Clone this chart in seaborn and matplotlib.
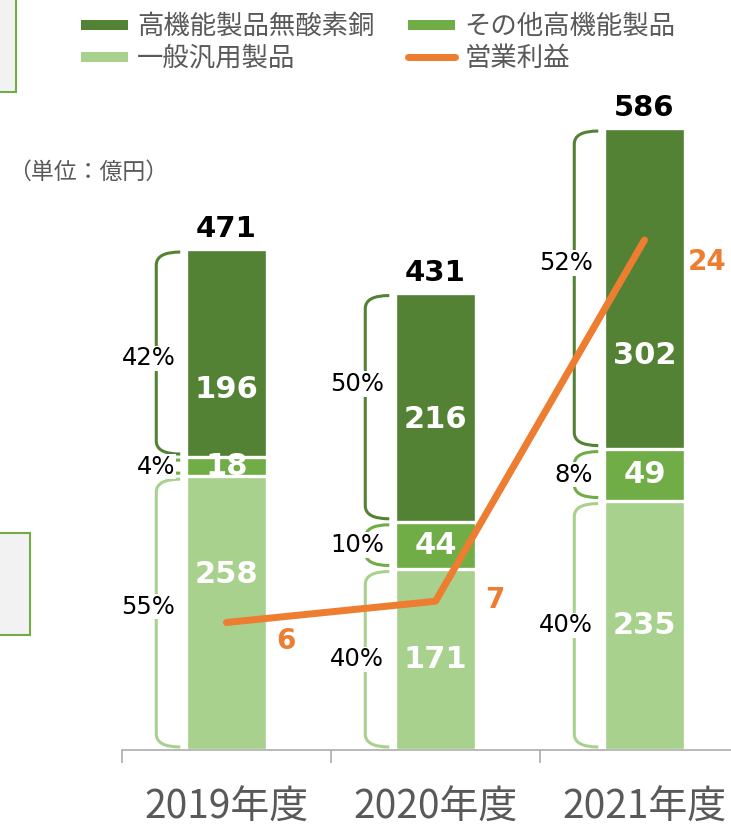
import numpy as np
import pandas as pd
import matplotlib
matplotlib.use("Agg")
import matplotlib.pyplot as plt
import seaborn as sns
from matplotlib.path import Path
from matplotlib.patches import PathPatch, Rectangle
from matplotlib.lines import Line2D

# ---------------- data ----------------
years = ["2019年度", "2020年度", "2021年度"]
general = [258, 171, 235]      # 一般汎用製品
other_hp = [18, 44, 49]        # その他高機能製品
hp_ofc = [196, 216, 302]       # 高機能製品無酸素銅
totals = [471, 431, 586]
profit = [6, 7, 24]            # 営業利益
pct_general = ["55%", "40%", "40%"]
pct_other = ["4%", "10%", "8%"]
pct_ofc = ["42%", "50%", "52%"]
series_names = ["高機能製品無酸素銅", "その他高機能製品", "一般汎用製品", "営業利益"]
unit_text = "（単位：億円）"

# ---------------- style ----------------
C_DARK, C_MID, C_LIGHT, C_ORANGE = "#548235", "#70AD47", "#A9D18E", "#ED7D31"
GRAY_TXT = "#595959"
JP = ["Noto Sans CJK JP", "DejaVu Sans"]

sns.set_theme(style="white")
plt.rcParams["font.family"] = ["DejaVu Sans", "Noto Sans CJK JP"]

W, H, DPI = 731, 827, 100
PT = 72 / DPI
fig = plt.figure(figsize=(W / DPI, H / DPI), dpi=DPI)

AX_L, AX_B, AX_T = 122, 750, 100
CAT_PX = 209
Y_PX = 1.0614
Y2_PX = 21.25
BAR_W = 0.385

ax = fig.add_axes([AX_L / W, (H - AX_B) / H, 3 * CAT_PX / W, (AX_B - AX_T) / H])

# stacked bars via overlaid cumulative bars
c1 = np.array(general)
c2 = c1 + np.array(other_hp)
c3 = c2 + np.array(hp_ofc)
df = pd.DataFrame({"year": years, "c1": c1, "c2": c2, "c3": c3})
for col, color in [("c3", C_DARK), ("c2", C_MID), ("c1", C_LIGHT)]:
    sns.barplot(data=df, x="year", y=col, color=color, width=BAR_W, saturation=1,
                edgecolor="white", linewidth=2.4, ax=ax, zorder=2)

ax2 = ax.twinx()
sns.lineplot(x=np.arange(len(years)), y=profit, ax=ax2, color=C_ORANGE,
             linewidth=7 * PT, solid_capstyle="round", zorder=3)

ax.set_xlim(-0.5, 2.5)
ax.set_ylim(0, (AX_B - AX_T) / Y_PX)
ax2.set_ylim(0, (AX_B - AX_T) / Y2_PX)

for a in (ax, ax2):
    for s in ["top", "right", "left"]:
        a.spines[s].set_visible(False)
    a.set_yticks([])
    a.set_ylabel("")
    a.set_xlabel("")
ax2.spines["bottom"].set_visible(False)
ax.spines["bottom"].set_color("#A6A6A6")
ax.spines["bottom"].set_linewidth(1.1)
ax.set_xticks([0, 1, 2])
ax.set_xticklabels(years, fontfamily=JP, fontsize=28, color=GRAY_TXT)
ax.tick_params(axis="x", which="major", length=0, pad=27)
ax.set_xticks([-0.5, 0.5, 1.5, 2.5], minor=True)
ax.tick_params(axis="x", which="minor", bottom=True, length=9, width=1.1,
               color="#A6A6A6", direction="out")
ax.set_xlim(-0.5, 2.5)

# braces + percentage labels
def brace(xc, y0, y1, color):
    left = xc - BAR_W / 2
    x_end = left - 6 / CAT_PX
    x_v = left - 30 / CAT_PX
    inset = 3 / Y_PX
    yt, yb = y1 - inset, y0 + inset
    ry = min(13 / Y_PX, (yt - yb) / 2)
    verts = [(x_end, yt), (x_v, yt), (x_v, yt - ry), (x_v, yb + ry), (x_v, yb), (x_end, yb)]
    codes = [Path.MOVETO, Path.CURVE3, Path.CURVE3, Path.LINETO, Path.CURVE3, Path.CURVE3]
    ax.add_patch(PathPatch(Path(verts, codes), facecolor="none", edgecolor=color,
                           lw=2.2, capstyle="butt", zorder=4, clip_on=False))

pct_dy = {("ofc", 0): -5, ("ofc", 1): 22, ("ofc", 2): 24, ("gen", 0): 6}
val_dy = {("ofc", 0): -34, ("ofc", 1): -12, ("ofc", 2): -63, ("gen", 0): 36}
segments = [("gen", np.zeros(3), c1, C_LIGHT, pct_general, general),
            ("oth", c1, c2, C_MID, pct_other, other_hp),
            ("ofc", c2, c3, C_DARK, pct_ofc, hp_ofc)]
for key, lo, hi, color, pcts, vals in segments:
    for i in range(3):
        brace(i, lo[i], hi[i], color)
        mid = (lo[i] + hi[i]) / 2
        ax.text(i - BAR_W / 2 - 11 / CAT_PX, mid + pct_dy.get((key, i), 0), pcts[i],
                ha="right", va="center", fontsize=17.5, color="black", zorder=5,
                bbox=dict(facecolor="white", edgecolor="none", pad=0.5))
        ax2.text(i, mid + val_dy.get((key, i), 0), str(vals[i]), transform=ax.transData,
                 ha="center", va="center", fontsize=22, fontweight="bold",
                 color="white", zorder=6)

# totals
for i in range(3):
    ax2.text(i, c3[i] + 20 / Y_PX, str(totals[i]), transform=ax.transData,
             ha="center", va="center", fontsize=21, fontweight="bold", color="black", zorder=6)

# profit labels
prof_off = [(43, -13), (42.5, 1), (45, -16)]
for i in range(3):
    ax2.annotate(str(profit[i]), xy=(i, profit[i]), xytext=prof_off[i],
                 textcoords="offset points", ha="center", va="center",
                 fontsize=20, fontweight="bold", color=C_ORANGE, zorder=6)

# legend
handles = [Line2D([0], [0], color=C_DARK, lw=10 * PT, solid_capstyle="butt"),
           Line2D([0], [0], color=C_LIGHT, lw=10 * PT, solid_capstyle="butt"),
           Line2D([0], [0], color=C_MID, lw=10 * PT, solid_capstyle="butt"),
           Line2D([0], [0], color=C_ORANGE, lw=7 * PT, solid_capstyle="round")]
labels = [series_names[0], series_names[2], series_names[1], series_names[3]]
leg = fig.legend(handles, labels, ncol=2, loc="upper left", bbox_to_anchor=(81 / W, 1 - 13 / H),
                 frameon=False, prop={"family": JP, "size": 19}, handlelength=1.78,
                 handletextpad=0.34, columnspacing=1.29, labelspacing=0.18,
                 borderpad=0, borderaxespad=0)
for t in leg.get_texts():
    t.set_color(GRAY_TXT)

# unit text
fig.text(8 / W, 1 - 172 / H, unit_text, ha="left", va="center", fontsize=16.5,
         color=GRAY_TXT, family=JP)

# cut-off side boxes
fig.add_artist(Rectangle((-10 / W, 1 - 92 / H), 26 / W, 110 / H, transform=fig.transFigure,
                         facecolor="#F2F2F2", edgecolor=C_MID, lw=1.5))
fig.add_artist(Rectangle((-10 / W, 1 - 635 / H), 40 / W, 102 / H, transform=fig.transFigure,
                         facecolor="#F2F2F2", edgecolor=C_MID, lw=1.5))

fig.savefig("out.png", dpi=DPI)
